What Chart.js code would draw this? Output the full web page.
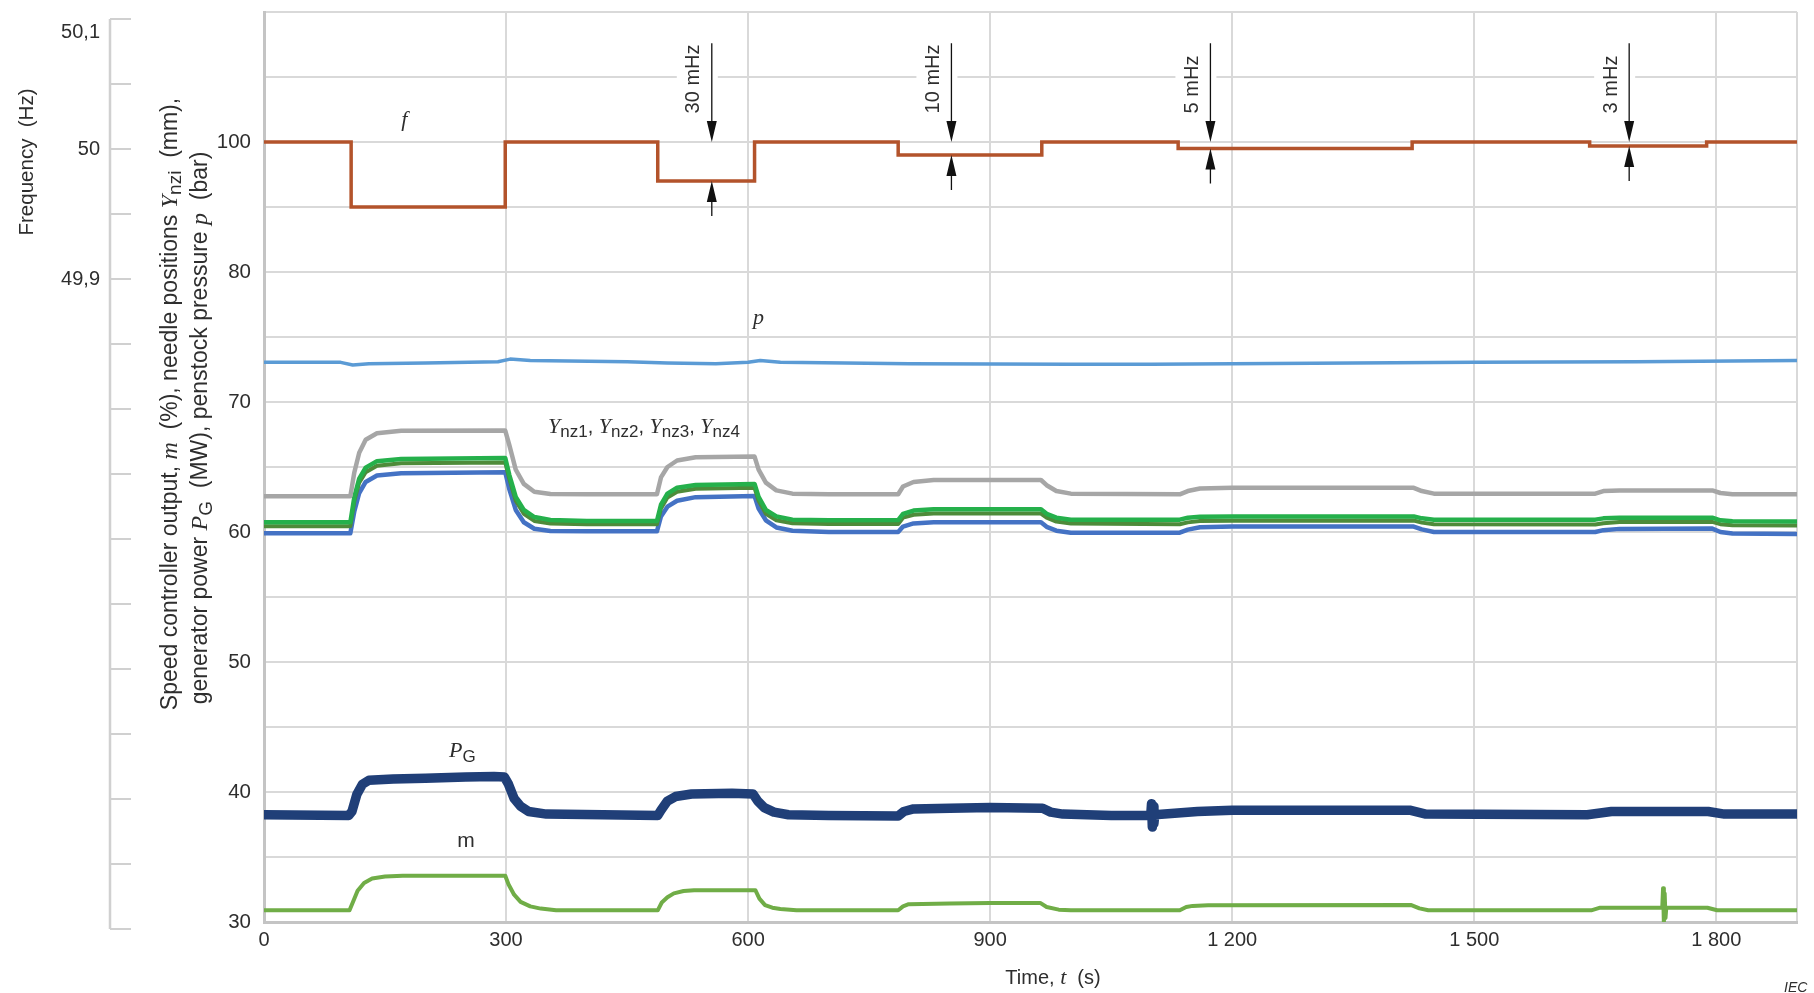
<!DOCTYPE html>
<html>
<head>
<meta charset="utf-8">
<script src="https://cdn.jsdelivr.net/npm/chart.js@4.4.1/dist/chart.umd.min.js"></script>
<style>html,body{margin:0;padding:0;background:#fff;}canvas{display:block;}</style>
</head>
<body>
<canvas id="c" width="1814" height="993"></canvas>
<script>
// ---------------- DATA ----------------
// Time axis
const X_MIN = 0, X_MAX = 1900;
const X_TICK_VALUES = [0, 300, 600, 900, 1200, 1500, 1800];
const X_TICK_LABELS = ['0', '300', '600', '900', '1 200', '1 500', '1 800'];

// Inner (left) axis: gridlines every 5, labels (note "100" sits on the 90 grid line)
const Y_MIN = 30, Y_MAX = 100, Y_STEP = 5;
const Y_LABEL_POS = [30, 40, 50, 60, 70, 80, 90];
const Y_LABEL_TEXT = ['30', '40', '50', '60', '70', '80', '100'];

// Frequency axis
const F_MIN = 49.4, F_MAX = 50.1, F_STEP = 0.05;
const F_LABEL_POS = [50.1, 50.0, 49.9];
const F_LABEL_TEXT = ['50,1', '50', '49,9'];

// Frequency f (Hz), stepped
const F_T  = [0, 108, 299, 488, 608, 786, 964, 1133, 1423, 1643, 1788, 1900];
const F_HZ = [50.000, 49.950, 50.000, 49.970, 50.000, 49.990, 50.000, 49.995, 50.000, 49.997, 50.000, 50.000];

// Penstock pressure p
const P_T = [0, 95, 110, 130, 200, 290, 305, 330, 450, 500, 560, 600, 615, 640, 800, 1000, 1100, 1200, 1500, 1700, 1900];
const P_V = [73.05, 73.05, 72.85, 72.95, 73.0, 73.1, 73.3, 73.2, 73.1, 73.0, 72.95, 73.05, 73.2, 73.05, 72.95, 72.9, 72.9, 72.95, 73.05, 73.1, 73.2];

// Needle positions Ynz1..4 (common time base)
const YNZ_T = [0, 107, 112, 118, 126, 140, 170, 299, 304, 312, 322, 335, 355, 400, 487, 492, 500, 512, 535, 608, 613, 622, 635, 655, 700, 786, 792, 805, 830, 963, 970, 982, 1000, 1135, 1145, 1160, 1200, 1425, 1435, 1450, 1650, 1660, 1680, 1795, 1805, 1820, 1900];
const YNZ_GRAY = [62.75, 62.75, 64.6, 66.1, 67.1, 67.6, 67.78, 67.8, 66.7, 64.8, 63.7, 63.1, 62.92, 62.9, 62.9, 64.2, 65.0, 65.5, 65.75, 65.8, 64.8, 63.8, 63.2, 62.95, 62.9, 62.9, 63.5, 63.85, 64.0, 64.0, 63.6, 63.15, 62.95, 62.9, 63.15, 63.35, 63.4, 63.4, 63.15, 62.95, 62.95, 63.15, 63.2, 63.2, 63.0, 62.9, 62.9];
const YNZ_GREEN = [60.75, 60.75, 62.7, 64.1, 64.95, 65.45, 65.62, 65.7, 64.4, 62.7, 61.7, 61.15, 60.92, 60.85, 60.85, 62.1, 62.95, 63.4, 63.62, 63.7, 62.7, 61.7, 61.2, 60.95, 60.9, 60.92, 61.4, 61.65, 61.75, 61.75, 61.4, 61.1, 60.95, 60.95, 61.1, 61.18, 61.2, 61.2, 61.05, 60.95, 60.95, 61.05, 61.1, 61.1, 60.9, 60.82, 60.8];
const YNZ_DKGREEN = [60.45, 60.45, 62.4, 63.8, 64.6, 65.1, 65.28, 65.35, 64.1, 62.4, 61.4, 60.85, 60.65, 60.6, 60.6, 61.8, 62.65, 63.1, 63.32, 63.4, 62.4, 61.4, 60.9, 60.68, 60.62, 60.62, 61.1, 61.33, 61.42, 61.42, 61.1, 60.8, 60.65, 60.6, 60.74, 60.84, 60.87, 60.88, 60.72, 60.6, 60.57, 60.68, 60.76, 60.78, 60.6, 60.52, 60.5];
const YNZ_BLUE = [59.9, 59.9, 61.6, 63.0, 63.85, 64.35, 64.52, 64.6, 63.3, 61.7, 60.75, 60.25, 60.08, 60.05, 60.05, 61.2, 61.95, 62.4, 62.68, 62.76, 61.8, 60.9, 60.35, 60.1, 60.0, 60.0, 60.42, 60.66, 60.75, 60.75, 60.4, 60.1, 59.95, 59.95, 60.18, 60.36, 60.42, 60.42, 60.2, 60.0, 60.0, 60.14, 60.24, 60.26, 60.0, 59.88, 59.85];

// Generator power PG
const PG_T = [0, 105, 109, 115, 122, 130, 160, 200, 250, 285, 298, 303, 310, 318, 328, 350, 420, 488, 492, 500, 510, 530, 580, 606, 612, 620, 632, 650, 700, 786, 793, 805, 850, 900, 965, 975, 990, 1050, 1099, 1100, 1101, 1102, 1103, 1104, 1157, 1200, 1420, 1440, 1640, 1670, 1790, 1810, 1900];
const PG_V = [38.25, 38.2, 38.5, 39.8, 40.6, 40.9, 41.0, 41.05, 41.15, 41.2, 41.15, 40.6, 39.5, 38.9, 38.5, 38.3, 38.25, 38.2, 38.6, 39.3, 39.65, 39.85, 39.9, 39.85, 39.3, 38.8, 38.45, 38.25, 38.2, 38.15, 38.5, 38.7, 38.75, 38.8, 38.75, 38.45, 38.3, 38.2, 38.2, 39.1, 37.3, 38.9, 37.6, 38.25, 38.5, 38.6, 38.6, 38.3, 38.25, 38.5, 38.5, 38.3, 38.3];

// Speed controller output m
const M_T = [0, 106, 110, 116, 124, 134, 150, 172, 299, 303, 310, 318, 330, 343, 362, 488, 493, 500, 508, 520, 533, 609, 614, 621, 630, 640, 660, 786, 792, 799, 850, 900, 962, 970, 985, 1000, 1135, 1143, 1151, 1170, 1422, 1432, 1443, 1645, 1656, 1733, 1734, 1735, 1736, 1737, 1738, 1789, 1801, 1900];
const M_V = [30.9, 30.9, 31.5, 32.4, 33.0, 33.35, 33.5, 33.56, 33.56, 32.9, 32.1, 31.55, 31.2, 31.03, 30.9, 30.9, 31.5, 31.9, 32.2, 32.38, 32.45, 32.45, 31.8, 31.3, 31.1, 31.0, 30.9, 30.9, 31.2, 31.37, 31.42, 31.47, 31.47, 31.15, 30.95, 30.9, 30.9, 31.15, 31.24, 31.28, 31.3, 31.05, 30.9, 30.9, 31.1, 31.1, 32.6, 29.9, 32.2, 30.3, 31.1, 31.1, 30.9, 30.9];

// Frequency-step annotations
const ANNOT_T = [555, 852, 1173, 1692];
const ANNOT_HZ = [49.970, 49.990, 49.995, 49.997];
const ANNOT_TEXT = ['30 mHz', '10 mHz', '5 mHz', '3 mHz'];

// ---------------- STYLE ----------------
const SANS = '"Liberation Sans", Arial, Helvetica, sans-serif';
const SERIF = '"Liberation Serif", "Times New Roman", serif';
const TXT = '#2e2e2e';
const sans = s => s + 'px ' + SANS;
const ital = s => 'italic ' + s + 'px ' + SERIF;
const GRID = '#d9d9d9';
const AXIS = '#c4c4c4';

Chart.defaults.font.family = SANS;

const pts = (T, V) => T.map((t, i) => ({x: t, y: V[i]}));

function drawRich(ctx, runs, x, y, align, rot, color) {
  ctx.save();
  ctx.translate(x, y);
  if (rot) ctx.rotate(rot);
  let w = 0;
  runs.forEach(r => { ctx.font = r[1]; r.w = ctx.measureText(r[0]).width; w += r.w; });
  let cx = align === 'center' ? -w / 2 : 0;
  ctx.textAlign = 'left';
  ctx.textBaseline = 'alphabetic';
  ctx.fillStyle = color || TXT;
  runs.forEach(r => { ctx.font = r[1]; ctx.fillText(r[0], cx, r[2] || 0); cx += r.w; });
  ctx.restore();
}

const overlay = {
  id: 'overlay',
  afterDraw(chart) {
    const {ctx} = chart;
    const x = chart.scales.x, y = chart.scales.y, yF = chart.scales.yF;

    // --- frequency-step annotations ---
    ANNOT_T.forEach((t, i) => {
      const ax = x.getPixelForValue(t);
      const yBase = yF.getPixelForValue(50.0);
      const yLow = yF.getPixelForValue(ANNOT_HZ[i]);
      const yTop = y.getPixelForValue(97.6);
      const yTxt = y.getPixelForValue(92.2);
      ctx.save();
      ctx.font = sans(20);
      const w = ctx.measureText(ANNOT_TEXT[i]).width;
      ctx.fillStyle = '#ffffff';
      ctx.fillRect(ax - 35, yTxt - w - 3, 41, w + 6);
      ctx.translate(ax - 18, yTxt);
      ctx.rotate(-Math.PI / 2);
      ctx.fillStyle = TXT;
      ctx.textAlign = 'left';
      ctx.textBaseline = 'middle';
      ctx.fillText(ANNOT_TEXT[i], 0, 0);
      ctx.restore();

      ctx.save();
      ctx.strokeStyle = '#111';
      ctx.fillStyle = '#111';
      ctx.lineWidth = 1.3;
      ctx.beginPath();
      ctx.moveTo(ax, yTop); ctx.lineTo(ax, yBase - 10);
      ctx.moveTo(ax, yLow + 10); ctx.lineTo(ax, yLow + 35);
      ctx.stroke();
      ctx.beginPath();
      ctx.moveTo(ax, yBase); ctx.lineTo(ax - 5, yBase - 21); ctx.lineTo(ax + 5, yBase - 21); ctx.closePath();
      ctx.moveTo(ax, yLow); ctx.lineTo(ax - 5, yLow + 21); ctx.lineTo(ax + 5, yLow + 21); ctx.closePath();
      ctx.fill();
      ctx.restore();
    });

    // --- series labels ---
    const P = (t, v) => [x.getPixelForValue(t), y.getPixelForValue(v)];
    let q;
    q = P(174, 91.2); drawRich(ctx, [['f', ital(22)]], q[0], q[1], 'center');
    q = P(613, 75.98); drawRich(ctx, [['p', ital(22)]], q[0], q[1], 'center');
    q = P(352, 67.6);
    drawRich(ctx, [['Y', ital(22)], ['nz1', sans(17), 4], [', ', sans(20)],
                   ['Y', ital(22)], ['nz2', sans(17), 4], [', ', sans(20)],
                   ['Y', ital(22)], ['nz3', sans(17), 4], [', ', sans(20)],
                   ['Y', ital(22)], ['nz4', sans(17), 4]], q[0], q[1], 'left');
    q = P(229.3, 42.69); drawRich(ctx, [['P', ital(22)], ['G', sans(17), 5]], q[0], q[1], 'left');
    q = P(239.5, 35.77); drawRich(ctx, [['m', sans(21)]], q[0], q[1], 'left');

    // --- inner axis title (two lines, rotated) ---
    drawRich(ctx, [['Speed controller output, ', sans(23)], ['m', ital(24)], ['  (%), needle positions ', sans(23)],
                   ['Y', ital(24)], ['nzi', sans(19), 4], ['  (mm),', sans(23)]], 177, 404, 'center', -Math.PI / 2);
    drawRich(ctx, [['generator power ', sans(23)], ['P', ital(24)], ['G', sans(19), 5],
                   ['  (MW), penstock pressure ', sans(23)], ['p', ital(24)], ['  (bar)', sans(23)]], 207, 428, 'center', -Math.PI / 2);

    // --- x axis title ---
    drawRich(ctx, [['Time, ', sans(20)], ['t', ital(22)], ['  (s)', sans(20)]], 1053, 984, 'center');

    // --- frequency axis (outer left) ---
    const SHIFT = 7;
    const FX = 110;
    ctx.save();
    ctx.strokeStyle = '#d0d0d0';
    ctx.lineWidth = 2.5;
    ctx.beginPath();
    ctx.moveTo(FX, yF.getPixelForValue(F_MAX) + SHIFT);
    ctx.lineTo(FX, yF.getPixelForValue(F_MIN) + SHIFT);
    ctx.stroke();
    ctx.lineWidth = 2;
    ctx.beginPath();
    const n = Math.round((F_MAX - F_MIN) / F_STEP);
    for (let k = 0; k <= n; k++) {
      const py = yF.getPixelForValue(F_MIN + k * F_STEP) + SHIFT;
      ctx.moveTo(FX, py); ctx.lineTo(FX + 21, py);
    }
    ctx.stroke();
    ctx.fillStyle = TXT;
    ctx.font = sans(20);
    ctx.textAlign = 'right';
    ctx.textBaseline = 'middle';
    F_LABEL_POS.forEach((v, i) => {
      const py = Math.max(yF.getPixelForValue(v) + SHIFT, 32);
      ctx.fillText(F_LABEL_TEXT[i], 100, py);
    });
    ctx.restore();
    drawRich(ctx, [['Frequency  (Hz)', sans(20.5)]], 33, 162, 'center', -Math.PI / 2);

    // --- IEC ---
    ctx.save();
    ctx.font = 'italic ' + sans(14);
    ctx.fillStyle = TXT;
    ctx.textAlign = 'left';
    ctx.textBaseline = 'alphabetic';
    ctx.fillText('IEC', 1784, 992);
    ctx.restore();
  }
};

const lineDs = (data, color, width, axis) => ({
  data, borderColor: color, backgroundColor: color, borderWidth: width,
  pointRadius: 0, tension: 0, fill: false, yAxisID: axis || 'y',
  borderJoinStyle: 'round', borderCapStyle: 'round'
});

const dsF = lineDs(pts(F_T, F_HZ), '#B3532B', 3.5, 'yF');
dsF.stepped = 'before';
dsF.borderJoinStyle = 'miter';
dsF.borderCapStyle = 'butt';

new Chart(document.getElementById('c'), {
  type: 'line',
  data: {
    datasets: [
      lineDs(pts(M_T, M_V), '#70AD47', 4),
      lineDs(pts(PG_T, PG_V), '#203F78', 9.5),
      lineDs(pts(YNZ_T, YNZ_GRAY), '#A6A6A6', 4.5),
      lineDs(pts(YNZ_T, YNZ_GREEN), '#25B04B', 4.5),
      lineDs(pts(YNZ_T, YNZ_DKGREEN), '#4E8B3A', 4),
      lineDs(pts(YNZ_T, YNZ_BLUE), '#4472C4', 4.5),
      lineDs(pts(P_T, P_V), '#5B9BD5', 3.5),
      dsF
    ]
  },
  options: {
    responsive: false,
    animation: false,
    devicePixelRatio: 1,
    layout: { padding: { left: 140, right: 17, top: 12, bottom: 0 } },
    plugins: { legend: { display: false }, tooltip: { enabled: false } },
    scales: {
      x: {
        type: 'linear', min: X_MIN, max: X_MAX,
        afterBuildTicks: s => { s.ticks = X_TICK_VALUES.concat([X_MAX]).map(v => ({ value: v })); },
        ticks: {
          autoSkip: false, maxRotation: 0, padding: 6, color: TXT, font: { size: 20 },
          callback: v => { const i = X_TICK_VALUES.indexOf(v); return i >= 0 ? X_TICK_LABELS[i] : ''; }
        },
        grid: { color: GRID, lineWidth: 2, drawTicks: false },
        border: { color: AXIS, width: 3 },
        afterFit: s => { s.height = 71; }
      },
      y: {
        type: 'linear', position: 'left', min: Y_MIN, max: Y_MAX,
        afterBuildTicks: s => {
          const t = [];
          for (let v = Y_MIN; v <= Y_MAX + 1e-9; v += Y_STEP) t.push({ value: v });
          s.ticks = t;
        },
        ticks: {
          autoSkip: false, padding: 13, color: TXT, font: { size: 20.5 },
          callback: v => { const i = Y_LABEL_POS.indexOf(v); return i >= 0 ? Y_LABEL_TEXT[i] : ''; }
        },
        grid: { color: GRID, lineWidth: 2, drawTicks: false },
        border: { color: AXIS, width: 3 },
        afterFit: s => { s.width = 124; s.paddingTop = 0; s.paddingBottom = 0; }
      },
      yF: { type: 'linear', position: 'left', display: false, min: F_MIN, max: F_MAX }
    }
  },
  plugins: [overlay]
});
</script>
</body>
</html>
